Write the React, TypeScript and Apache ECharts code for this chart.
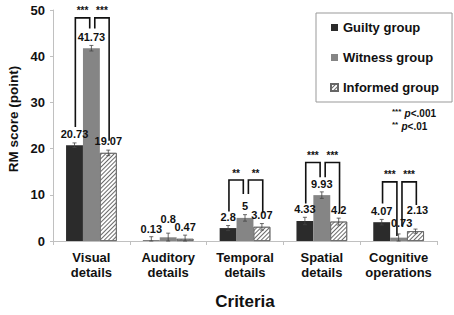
import React, { useEffect, useRef } from "react";
import * as echarts from "echarts";

const categories = ["Visual\ndetails", "Auditory\ndetails", "Temporal\ndetails", "Spatial\ndetails", "Cognitive\noperations"];
const seriesNames = ["Guilty group", "Witness group", "Informed group"];
const guilty = [20.73, 0.13, 2.8, 4.33, 4.07];
const witness = [41.73, 0.8, 5, 9.93, 0.73];
const informed = [19.07, 0.47, 3.07, 4.2, 2.13];
const guiltyErr = [0.5, 0.8, 0.55, 0.8, 0.6];
const witnessErr = [0.6, 0.9, 0.7, 0.7, 0.8];
const informedErr = [0.6, 0.8, 0.7, 0.75, 0.45];

const bracketCats = [0, 2, 3, 4];
const bracketTop = [48.3, 13.2, 17, 12.8];
const bracketLeftLeg = [24.7, 6.4, 8.1, 8.1];
const bracketMidLeftLeg = [46, 10.2, 13.8, 1.1];
const bracketMidRightLeg = [46, 10.2, 13.8, 3.2];
const bracketRightLeg = [21.7, 6, 6, 7.8];
const bracketMarks = ["***", "**", "***", "***"];

const yTicks = { min: 0, max: 50, interval: 10 };
const yAxisTitle = "RM score (point)";

const FONT = "'Liberation Sans', Arial, sans-serif";
const CAT_GAP = 0.34;

export default function App() {
  const ref = useRef<HTMLDivElement>(null);
  useEffect(() => {
    if (!ref.current) return;
    const chart = echarts.init(ref.current, null, { renderer: "svg" });
    const values = [guilty, witness, informed];
    const errs = [guiltyErr, witnessErr, informedErr];
    const colors = ["#2b2b2b", "#858585", "#ffffff"];
    const labelOffsets: Record<string, number[]> = {
      "1-1": [0, -7],
      "1-4": [3, -3],
      "2-4": [2, -10],
    };

    const barSeries = values.map((vals, g) => ({
      name: seriesNames[g],
      type: "bar",
      barGap: "0%",
      barCategoryGap: CAT_GAP * 100 + "%",
      data: vals.map((v, i) =>
        labelOffsets[g + "-" + i] ? { value: v, label: { offset: labelOffsets[g + "-" + i] } } : v
      ),
      itemStyle: {
        color: colors[g],
        borderColor: g === 2 ? "#666" : colors[g],
        borderWidth: g === 2 ? 0.8 : 0,
        decal:
          g === 2
            ? {
                symbol: "rect",
                symbolSize: 1,
                color: "#6a6a6a",
                backgroundColor: "#fff",
                dashArrayX: [1, 0],
                dashArrayY: [1, 2],
                rotation: -Math.PI / 4,
              }
            : "none",
      },
      label: {
        show: true,
        position: "top",
        distance: 6,
        fontFamily: FONT,
        fontWeight: "bold",
        fontSize: 11,
        color: "#111",
      },
      z: 2,
    }));

    const errSeries = values.map((vals, g) => ({
      name: seriesNames[g] + " err",
      type: "custom",
      z: 3,
      silent: true,
      data: vals.map((v, i) => [i, v, errs[g][i]]),
      encode: { x: 0, y: 1 },
      renderItem: (params: any, api: any) => {
        const i = api.value(0);
        const v = api.value(1);
        const e = api.value(2);
        const band = api.size([1, 0])[0];
        const barW = (band * (1 - CAT_GAP)) / 3;
        const cx = api.coord([i, 0])[0] + (g - 1) * barW;
        const yTop = api.coord([i, v + e])[1];
        const yBot = api.coord([i, Math.max(0, v - e)])[1];
        const cap = 2;
        const style = { stroke: "#444", lineWidth: 0.8 };
        return {
          type: "group",
          children: [
            { type: "line", shape: { x1: cx, y1: yTop, x2: cx, y2: yBot }, style },
            { type: "line", shape: { x1: cx - cap, y1: yTop, x2: cx + cap, y2: yTop }, style },
            { type: "line", shape: { x1: cx - cap, y1: yBot, x2: cx + cap, y2: yBot }, style },
          ],
        };
      },
    }));

    const bracketSeries = {
      name: "brackets",
      type: "custom",
      z: 4,
      silent: true,
      data: bracketCats.map((c, k) => [
        c,
        bracketTop[k],
        bracketLeftLeg[k],
        bracketMidLeftLeg[k],
        bracketMidRightLeg[k],
        bracketRightLeg[k],
        k,
      ]),
      encode: { x: 0, y: 1 },
      renderItem: (params: any, api: any) => {
        const i = api.value(0);
        const band = api.size([1, 0])[0];
        const barW = (band * (1 - CAT_GAP)) / 3;
        const cx = api.coord([i, 0])[0];
        const yy = (v: number) => api.coord([i, v])[1];
        const top = yy(api.value(1));
        const x1 = cx - barW * 0.95;
        const x2 = cx - barW * 0.1;
        const x3 = cx + barW * 0.2;
        const x4 = cx + barW * 1.05;
        const style = { stroke: "#111", lineWidth: 1.6, fill: "none" };
        const mark = bracketMarks[api.value(6)];
        const txt = (x: number) => ({
          type: "text",
          style: {
            text: mark,
            x,
            y: top - 2,
            align: "center",
            verticalAlign: "bottom",
            fontSize: 10,
            fontWeight: "bold",
            fontFamily: FONT,
            fill: "#111",
          },
        });
        return {
          type: "group",
          children: [
            {
              type: "polyline",
              shape: { points: [[x1, yy(api.value(2))], [x1, top], [x2, top], [x2, yy(api.value(3))]] },
              style,
            },
            {
              type: "polyline",
              shape: { points: [[x3, yy(api.value(4))], [x3, top], [x4, top], [x4, yy(api.value(5))]] },
              style,
            },
            txt((x1 + x2) / 2),
            txt((x3 + x4) / 2),
          ],
        };
      },
    };

    chart.setOption({
      animation: false,
      backgroundColor: "#fff",
      textStyle: { fontFamily: FONT },
      grid: { left: 53, right: 17, top: 10, bottom: 70, containLabel: false },
      legend: {
        data: seriesNames,
        orient: "vertical",
        left: 316,
        top: 13,
        padding: [8, 13, 8, 14],
        itemGap: 17,
        itemWidth: 7,
        itemHeight: 7,
        icon: "rect",
        borderColor: "#999",
        borderWidth: 1,
        backgroundColor: "#fff",
        textStyle: { fontFamily: FONT, fontWeight: "bold", fontSize: 13, color: "#111" },
      },
      xAxis: {
        type: "category",
        data: categories,
        name: "Criteria",
        nameLocation: "middle",
        nameGap: 52,
        nameTextStyle: { fontFamily: FONT, fontWeight: "bold", fontSize: 17, color: "#111" },
        axisLine: { lineStyle: { color: "#c0c0c0", width: 1 } },
        axisTick: { show: true, length: 4, lineStyle: { color: "#c0c0c0" } },
        axisLabel: {
          fontFamily: FONT,
          fontWeight: "bold",
          fontSize: 13,
          color: "#111",
          margin: 9,
          lineHeight: 15,
          interval: 0,
        },
      },
      yAxis: {
        type: "value",
        min: yTicks.min,
        max: yTicks.max,
        interval: yTicks.interval,
        axisLine: { show: true, lineStyle: { color: "#c0c0c0", width: 1 } },
        axisTick: { show: true, length: 3, lineStyle: { color: "#c0c0c0" } },
        splitLine: { show: false },
        axisLabel: { fontFamily: FONT, fontWeight: "bold", fontSize: 13, color: "#111", margin: 8 },
      },
      graphic: [
        {
          type: "text",
          x: 13,
          y: 119,
          rotation: Math.PI / 2,
          style: {
            text: yAxisTitle,
            align: "center",
            verticalAlign: "middle",
            fontFamily: FONT,
            fontWeight: "bold",
            fontSize: 13.5,
            fill: "#111",
          },
        },
        {
          type: "text",
          right: 18,
          top: 107,
          style: {
            text: "{s|***} {p|p}{n|<.001}\n{s|**} {p|p}{n|<.01}",
            align: "left",
            rich: {
              s: { fontSize: 8, fontWeight: "bold", fontFamily: FONT, fill: "#111", verticalAlign: "top", lineHeight: 13 },
              p: { fontSize: 10, fontStyle: "italic", fontWeight: "bold", fontFamily: FONT, fill: "#111", lineHeight: 13 },
              n: { fontSize: 10, fontWeight: "bold", fontFamily: FONT, fill: "#111", lineHeight: 13 },
            },
          },
        },
      ],
      series: [...barSeries, ...errSeries, bracketSeries],
    });
    return () => chart.dispose();
  }, []);
  return (
    <div style={{ position: "fixed", left: 0, top: 0, width: 454, height: 315, background: "#fff" }}>
      <div ref={ref} style={{ width: 454, height: 315 }} />
    </div>
  );
}
